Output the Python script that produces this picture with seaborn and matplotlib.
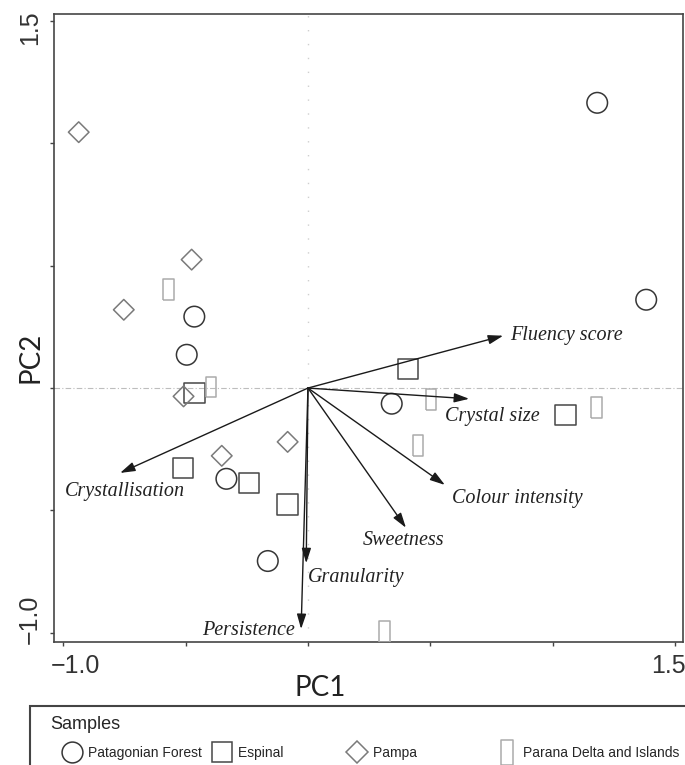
import matplotlib
matplotlib.use("Agg")
import matplotlib.pyplot as plt
import matplotlib.transforms as mtransforms
from matplotlib.lines import Line2D
from matplotlib.patches import Rectangle
import seaborn as sns
import pandas as pd

# sample scores on PC1 / PC2, one pair of lists per region
forest_pc1 = [1.181, 1.381, -0.464, -0.495, 0.342, -0.333, -0.164]
forest_pc2 = [1.166, 0.361, 0.292, 0.136, -0.064, -0.371, -0.707]
espinal_pc1 = [-0.464, 0.409, 1.052, -0.511, -0.240, -0.083]
espinal_pc2 = [-0.021, 0.079, -0.109, -0.328, -0.387, -0.476]
pampa_pc1 = [-0.936, -0.475, -0.752, -0.508, -0.083, -0.352]
pampa_pc2 = [1.046, 0.525, 0.320, -0.034, -0.220, -0.277]
parana_pc1 = [-0.570, -0.396, 0.503, 1.178, 0.450, 0.313]
parana_pc2 = [0.404, 0.004, -0.048, -0.078, -0.236, -0.996]

regions = ["Patagonian Forest", "Espinal", "Pampa", "Parana Delta and Islands"]

# sensory attribute loadings (arrow tips)
attributes = ["Fluency score", "Crystal size", "Colour intensity", "Sweetness",
              "Granularity", "Persistence", "Crystallisation"]
load_pc1 = [0.797, 0.658, 0.559, 0.400, -0.007, -0.028, -0.767]
load_pc2 = [0.214, -0.044, -0.396, -0.571, -0.716, -0.985, -0.347]

ticks = [-1.0, -0.5, 0.0, 0.5, 1.0, 1.5]
tick_labels = ["\u22121.0", "", "", "", "", "1.5"]

df = pd.concat([
    pd.DataFrame({"PC1": forest_pc1, "PC2": forest_pc2, "site": regions[0]}),
    pd.DataFrame({"PC1": espinal_pc1, "PC2": espinal_pc2, "site": regions[1]}),
    pd.DataFrame({"PC1": pampa_pc1, "PC2": pampa_pc2, "site": regions[2]}),
    pd.DataFrame({"PC1": parana_pc1, "PC2": parana_pc2, "site": regions[3]}),
])

sns.set_style("white")
plt.rcParams["font.family"] = ["Liberation Sans", "DejaVu Sans"]

tall_rect = [(-0.5, -1), (0.5, -1), (0.5, 1), (-0.5, 1), (-0.5, -1)]
styles = {
    "Patagonian Forest": ("o", 220, "#363636"),
    "Espinal": ("s", 215, "#474747"),
    "Pampa": ("D", 110, "#7a7a7a"),
    "Parana Delta and Islands": (tall_rect, 225, "#ababab"),
}

fig = plt.figure(figsize=(6.85, 7.65), dpi=100)
ax = fig.add_axes([0.0788, 0.1608, 0.9182, 0.8209])

ax.axhline(0, color="#bdbdbd", lw=0.8, ls=(0, (5, 2, 1, 2)), zorder=0)
ax.axvline(0, color="#cfcfcf", lw=1.0, ls=(0, (1, 9)), zorder=0)

for site in regions:
    marker, size, col = styles[site]
    sub = df[df["site"] == site]
    sns.scatterplot(data=sub, x="PC1", y="PC2", marker=marker, s=size, color=col,
                    facecolor="none", edgecolor=col, linewidth=1.1, ax=ax, legend=False,
                    zorder=3)

# where each attribute name sits relative to its arrow tip (pixels)
label_offsets = {
    "Fluency score": (7, 0, "left"),
    "Crystal size": (23, -18, "center"),
    "Colour intensity": (72, -14, "center"),
    "Sweetness": (-2, -13, "center"),
    "Granularity": (2, -14, "left"),
    "Persistence": (-6, -1, "right"),
    "Crystallisation": (5, -19, "center"),
}

for name, lx, ly in zip(attributes, load_pc1, load_pc2):
    ax.annotate("", xy=(lx, ly), xytext=(0, 0),
                arrowprops=dict(arrowstyle="-|>,head_length=0.45,head_width=0.14",
                                color="#1a1a1a", lw=1.0, shrinkA=0, shrinkB=0,
                                mutation_scale=20), zorder=4)
    dx, dy, ha = label_offsets[name]
    ax.annotate(name, xy=(lx, ly), xytext=(dx, dy), textcoords="offset pixels",
                ha=ha, va="center", fontsize=14.5, family="Liberation Serif",
                style="italic", color="#222222", zorder=5)

ax.set_xlim(-1.037, 1.531)
ax.set_ylim(-1.038, 1.529)
ax.set_xticks(ticks)
ax.set_xticklabels(tick_labels)
ax.set_yticks(ticks)
ax.set_yticklabels(tick_labels, rotation=90, va="center")
ax.tick_params(bottom=True, left=True, direction="out", length=3, width=1,
               color="#444444", labelsize=18, labelcolor="#333333", pad=5.5)

for side in ["left", "right", "top", "bottom"]:
    ax.spines[side].set_visible(True)
    ax.spines[side].set_color("#454545")
    ax.spines[side].set_linewidth(1.2)


def nudge(text, dx, dy):
    text.set_transform(text.get_transform()
                       + mtransforms.ScaledTranslation(dx / 100, dy / 100, fig.dpi_scale_trans))


xl = ax.get_xticklabels()
nudge(xl[0], 12, 0)
nudge(xl[-1], -7, 0)
yl = ax.get_yticklabels()
nudge(yl[0], 0, 13)
nudge(yl[-1], 0, -7)

ax.set_xlabel("PC1", fontsize=20, family="Lato", color="#222222")
ax.set_ylabel("PC2", fontsize=20, family="Lato", color="#222222")
ax.xaxis.label.set_va("center")
ax.yaxis.label.set_va("center")
ax.xaxis.set_label_coords(0.423, -0.073)
ax.yaxis.set_label_coords(-0.037, 0.454)

# legend box runs off the right and bottom edges of the figure
fig.add_artist(Rectangle((30 / 685, -0.02), 0.99, (765 - 706) / 765 + 0.02,
                         transform=fig.transFigure, fill=False, ec="#444444", lw=1.5))

handles = []
for site in regions:
    marker, size, col = styles[site]
    ms = 15 if site != "Pampa" else 11.5
    if site == "Parana Delta and Islands":
        ms = 18
    handles.append(Line2D([], [], ls="none", marker=marker, ms=ms, mfc="none",
                          mec=col, mew=1.1))
legend_labels = [regions[0], regions[1] + " " * 14, regions[2] + " " * 18, regions[3]]
leg = fig.legend(handles, legend_labels, title="Samples", loc="upper left",
                 bbox_to_anchor=(58 / 685, 1 - 716 / 765), ncol=4, frameon=False,
                 alignment="left", fontsize=10, title_fontsize=13, handlelength=2.0,
                 handletextpad=0.15, columnspacing=0.43, borderpad=0,
                 labelspacing=0.95, borderaxespad=0)
nudge(leg.get_title(), -8, 0)

fig.savefig("out.png", dpi=100)
